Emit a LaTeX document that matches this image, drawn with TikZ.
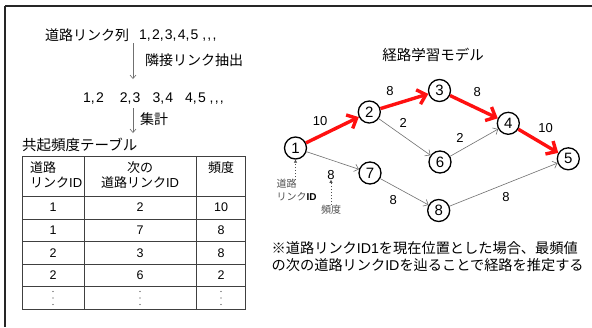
\documentclass[tikz,border=0pt]{standalone}
\usepackage{fontspec}
\setmainfont{Liberation Sans}
\newfontfamily\jp{Noto Sans CJK JP}
\usetikzlibrary{arrows.meta}
\definecolor{edgegray}{HTML}{707070}
\definecolor{tablegray}{HTML}{404040}
\definecolor{annogray}{HTML}{505050}
\definecolor{pathred}{HTML}{FF1010}
\newcommand{\cm}{,\kern1.2pt}
\tikzset{
  fs/.style={font=\fontsize{#1}{#1}\selectfont},
  txt/.style={inner sep=0pt},
  flowarrow/.style={draw=edgegray, line width=0.6pt, -{Straight Barb[length=3.5pt,width=6pt]}},
  nd/.style={circle, draw, line width=1.3pt, minimum size=22pt, inner sep=0pt, font=\fontsize{15}{15}\selectfont},
  redge/.style={draw=pathred, line width=3.4pt, -{Straight Barb[length=8pt,width=15pt]}},
  gedge/.style={draw=edgegray, line width=0.6pt, -{Straight Barb[length=4pt,width=7.5pt]}},
  elab/.style={inner sep=0pt, font=\fontsize{13}{13}\selectfont},
  anno/.style={draw=annogray, line width=0.6pt, dash pattern=on 1.5pt off 1.5pt, -{Triangle[length=3pt,width=3pt]}},
  tline/.style={draw=tablegray, line width=0.9pt},
  tcell/.style={inner sep=0pt, font=\fontsize{12.5}{12.5}\selectfont},
}
\begin{document}
\begin{tikzpicture}[x=1pt,y=-1pt]
\useasboundingbox (0,0) rectangle (592,327);
\fill[white] (0,0) rectangle (592,327);
% frame
\draw[line width=1.6pt, black!85] (5,6) -- (592,6);
\draw[line width=1.6pt, black!85] (5,6) -- (5,327);

% left flow
\node[txt, anchor=west, fs=14] (seqlbl) at (45,35) {\jp 道路リンク列};
\node[txt, anchor=west, fs=14] (seqnum) at (139,35.8) {1\cm2\cm3\cm4\cm5 \cm\cm,};
\coordinate (a1s) at (133,43);
\coordinate (a1e) at (133,79);
\draw[flowarrow] (a1s) -- (a1e);
\node[txt, anchor=west, fs=14] (extract) at (145,60) {\jp 隣接リンク抽出};
\node[txt, anchor=west, fs=14] (pairs) at (83,98.8) {1\cm2\hspace{16pt}2\cm3\hspace{12pt}3\cm4\hspace{12pt}4\cm5 \cm\cm,};
\coordinate (a2s) at (133,108);
\coordinate (a2e) at (133,133);
\draw[flowarrow] (a2s) -- (a2e);
\node[txt, anchor=west, fs=14] (agg) at (140,119) {\jp 集計};
\node[txt, anchor=west, fs=14.5] (ttitle) at (22,145) {\jp 共起頻度テーブル};

% table
\draw[tline] (22.3,156) rectangle (245.7,309);
\foreach \yy in {196,219,241.5,264,286.5} \draw[tline] (22.3,\yy) -- (245.7,\yy);
\draw[tline] (84,156) -- (84,309);
\draw[tline] (196,156) -- (196,309);
\node[tcell, anchor=north west, align=left, font=\fontsize{13}{15}\selectfont] (h1) at (30,161) {\jp 道路\\{\jp リンク}ID};
\node[tcell, anchor=north, align=center, font=\fontsize{13}{15}\selectfont] (h2) at (140,161) {\jp 次の\\{\jp 道路リンク}ID};
\node[tcell, anchor=north, font=\fontsize{13}{15}\selectfont] (h3) at (221,161) {\jp 頻度};
\foreach \a/\b/\c/\yy [count=\i] in {1/2/10/207.5, 1/7/8/230.2, 2/3/8/252.7, 2/6/2/275.2}{
  \node[tcell] (r\i a) at (53,\yy) {\a};
  \node[tcell] (r\i b) at (140,\yy) {\b};
  \node[tcell] (r\i c) at (221,\yy) {\c};
}
\foreach \xx in {53,140,221}
  \foreach \yy in {291.5,298,304.5}
    \fill[black!80] (\xx,\yy) circle (0.6pt);

% graph
\node[txt, fs=14.5] (gtitle) at (433,55) {\jp 経路学習モデル};
\node[nd] (n1) at (295.5,148) {1};
\node[nd] (n2) at (369.3,112) {2};
\node[nd] (n3) at (439.5,90.5) {3};
\node[nd] (n4) at (508.3,123.3) {4};
\node[nd] (n5) at (568.3,158.8) {5};
\node[nd] (n6) at (440,162) {6};
\node[nd] (n7) at (370,173) {7};
\node[nd] (n8) at (438.7,210.5) {8};

\draw[gedge] (n1) -- (n7);
\draw[gedge] (n2) -- (n6);
\draw[gedge] (n6) -- (n4);
\draw[gedge] (n7) -- (n8);
\draw[gedge] (n8) -- (n5);
\draw[redge] (n1) -- (n2);
\draw[redge] (n2) -- (n3);
\draw[redge] (n3) -- (n4);
\draw[redge] (n4) -- (n5);

\node[elab] (l12) at (320,121) {10};
\node[elab] (l23) at (390,91) {8};
\node[elab] (l26) at (403.3,123.3) {2};
\node[elab] (l34) at (477.3,91.7) {8};
\node[elab] (l45) at (545.7,128.3) {10};
\node[elab] (l64) at (460,137.7) {2};
\node[elab] (l85) at (506,196.7) {8};
\node[elab] (l78) at (393.3,200) {8};
\node[elab] (l17) at (331,175) {8};

\node[inner sep=0pt, anchor=north west, align=left, text=annogray, font=\fontsize{10}{13}\selectfont] (idlbl) at (276.5,179) {\jp 道路\\{\jp リンク}\textcolor{black}{\textbf{ID}}};
\node[inner sep=0pt, text=annogray, font=\fontsize{10}{10}\selectfont] (freqlbl) at (331,210) {\jp 頻度};
\coordinate (idtop) at (295.5,180);
\draw[anno] (idtop) -- (n1);
\draw[anno] (freqlbl) -- (l17);

\node[inner sep=0pt, anchor=west, align=left, font=\fontsize{14.2}{17}\selectfont] (note) at (271.5,256.7)
  {{\jp ※道路リンク}ID1{\jp を現在位置とした場合、最頻値}\\{\jp の次の道路リンク}ID{\jp を辿ることで経路を推定する}};
\end{tikzpicture}
\end{document}
